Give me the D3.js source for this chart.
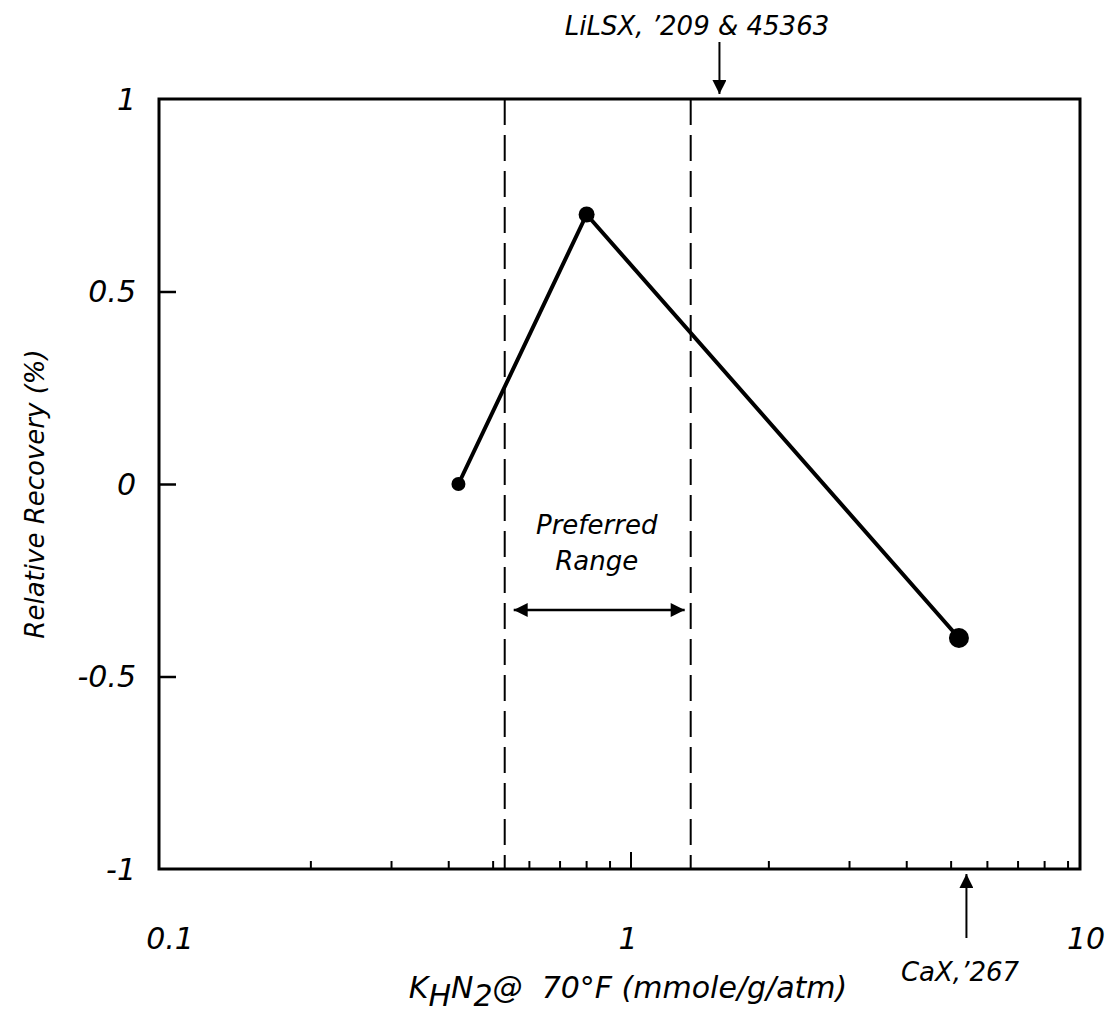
<!DOCTYPE html>
<meta charset="utf-8">
<style>
body { margin: 0; background: #fff; }
text { font-family: "DejaVu Sans", sans-serif; font-style: italic; fill: #000; }
</style>
<body>
<script src="https://cdn.jsdelivr.net/npm/d3@7"></script>
<script>

// data
var kValues   = [0.42, 0.80, 5.2];      // K_H N2 (mmole/g/atm)
var recovery  = [0.0, 0.70, -0.40];     // relative recovery (%)
var dotRadius = [7, 8, 10];
var rangeLimits = [0.53, 1.35];          // preferred range (dashed lines)
var yTicks = [1, 0.5, 0, -0.5, -1];
var xLabels = [0.1, 1, 10];
var lilsxAt = 1.56, caxAt = 5.4;

var width = 1108, height = 1019;
var box = {left: 159, right: 1080, top: 99, bottom: 869};

var svg = d3.select("body").append("svg")
    .attr("width", width)
    .attr("height", height);

// scales
var x = d3.scaleLog().domain([0.1, 10]).range([173, 1089]);
var y = d3.scaleLinear().domain([-1, 1]).range([box.bottom, box.top]);

// frame
svg.append("rect")
    .attr("x", box.left).attr("y", box.top)
    .attr("width", box.right - box.left)
    .attr("height", box.bottom - box.top)
    .attr("fill", "none").attr("stroke", "#000").attr("stroke-width", 3);

// x ticks (log minor ticks, taller one at 1)
var xt = x.ticks().filter(function (d) { return d > 0.1 && d < 10; });
svg.append("g").selectAll("line")
    .data(xt)
    .enter().append("line")
    .attr("x1", function (d) { return x(d); })
    .attr("x2", function (d) { return x(d); })
    .attr("y1", box.bottom)
    .attr("y2", function (d) { return box.bottom - (Math.abs(d - 1) < 1e-9 ? 17 : 8); })
    .attr("stroke", "#000").attr("stroke-width", 2);

svg.append("g").selectAll("text")
    .data(xLabels)
    .enter().append("text")
    .attr("x", function (d) { return x(d) - 3; })
    .attr("y", 949)
    .attr("text-anchor", "middle")
    .attr("font-size", 30)
    .text(function (d) { return d; });

// y axis: inward ticks + labels
svg.append("g")
    .attr("transform", "translate(" + box.left + ",0)")
    .call(d3.axisRight(y).tickValues([0.5, 0, -0.5]).tickSize(17).tickFormat(""))
    .call(function (g) { g.select(".domain").remove(); g.selectAll("line").attr("stroke-width", 2.5); });

svg.append("g").selectAll("text")
    .data(yTicks)
    .enter().append("text")
    .attr("x", 136)
    .attr("y", function (d) { return y(d); })
    .attr("dy", "0.36em")
    .attr("text-anchor", "end")
    .attr("font-size", 30)
    .text(function (d) { return d; });

// preferred range dashed lines
svg.append("g").selectAll("line")
    .data(rangeLimits)
    .enter().append("line")
    .attr("x1", function (d) { return x(d); })
    .attr("x2", function (d) { return x(d); })
    .attr("y1", box.top)
    .attr("y2", box.bottom)
    .attr("stroke", "#000").attr("stroke-width", 2)
    .attr("stroke-dasharray", "26,10");

// arrow markers
var defs = svg.append("defs");
defs.append("marker")
    .attr("id", "head")
    .attr("viewBox", "0 0 10 10")
    .attr("refX", 10).attr("refY", 5)
    .attr("markerWidth", 20).attr("markerHeight", 14)
    .attr("markerUnits", "userSpaceOnUse")
    .attr("orient", "auto-start-reverse")
    .append("path").attr("d", "M0,0 L10,5 L0,10 Z").attr("fill", "#000");

svg.append("line")
    .attr("x1", x(rangeLimits[0]) + 9).attr("x2", x(rangeLimits[1]) - 6)
    .attr("y1", 610).attr("y2", 610)
    .attr("stroke", "#000").attr("stroke-width", 2.5)
    .attr("marker-start", "url(#head)").attr("marker-end", "url(#head)");

var midRange = Math.sqrt(rangeLimits[0] * rangeLimits[1]);
svg.append("text")
    .attr("x", x(midRange) - 1).attr("y", 534)
    .attr("text-anchor", "middle").attr("font-size", 26)
    .text("Preferred");
svg.append("text")
    .attr("x", x(midRange) - 1).attr("y", 570)
    .attr("text-anchor", "middle").attr("font-size", 26)
    .text("Range");

// data line and points
var pts = kValues.map(function (k, i) { return {k: k, r: recovery[i], s: dotRadius[i]}; });
svg.append("path")
    .datum(pts)
    .attr("fill", "none").attr("stroke", "#000").attr("stroke-width", 4)
    .attr("d", d3.line().x(function (d) { return x(d.k); }).y(function (d) { return y(d.r); }));

svg.append("g").selectAll("circle")
    .data(pts)
    .enter().append("circle")
    .attr("cx", function (d) { return x(d.k); })
    .attr("cy", function (d) { return y(d.r); })
    .attr("r", function (d) { return d.s; })
    .attr("fill", "#000");

// annotation arrows
svg.append("line")
    .attr("x1", x(lilsxAt)).attr("x2", x(lilsxAt))
    .attr("y1", 42).attr("y2", 94)
    .attr("stroke", "#000").attr("stroke-width", 2)
    .attr("marker-end", "url(#head)");
svg.append("text")
    .attr("x", 697).attr("y", 35)
    .attr("text-anchor", "middle").attr("font-size", 26)
    .text("LiLSX, \u2019209 & 45363");

svg.append("line")
    .attr("x1", x(caxAt)).attr("x2", x(caxAt))
    .attr("y1", 938).attr("y2", 874)
    .attr("stroke", "#000").attr("stroke-width", 2)
    .attr("marker-end", "url(#head)");
svg.append("text")
    .attr("x", 960).attr("y", 981)
    .attr("text-anchor", "middle").attr("font-size", 26)
    .text("CaX,\u2019267");

// axis titles
var xt2 = svg.append("text")
    .attr("x", 628).attr("y", 998)
    .attr("text-anchor", "middle").attr("font-size", 30);
xt2.append("tspan").text("K");
xt2.append("tspan").attr("dy", 8).text("H");
xt2.append("tspan").attr("dy", -8).text("N");
xt2.append("tspan").attr("dy", 8).text("2");
xt2.append("tspan").attr("dy", -8).text("@\u00a0\u00a070\u00b0F (mmole/g/atm)");

svg.append("text")
    .attr("transform", "translate(44,494) rotate(-90)")
    .attr("text-anchor", "middle").attr("font-size", 26)
    .text("Relative Recovery (%)");

</script>
</body>
